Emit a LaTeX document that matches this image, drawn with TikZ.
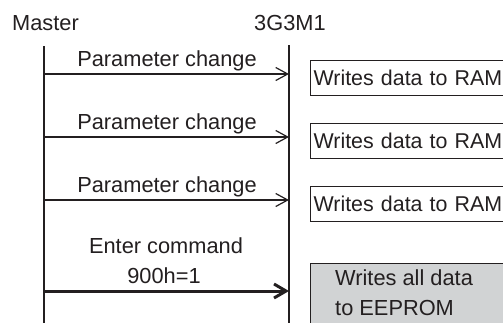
\documentclass[tikz,border=0pt]{standalone}
\usepackage{fontspec}
\setmainfont{Liberation Sans}
\usetikzlibrary{arrows.meta}
\definecolor{ink}{RGB}{35,31,32}
\definecolor{boxgray}{RGB}{209,211,212}
\begin{document}
\begin{tikzpicture}[x=1pt,y=-1pt,
  lbl/.style={font=\fontsize{21.8}{26}\selectfont, text=ink, inner sep=0pt},
  life/.style={draw=ink, line width=1.2pt},
  msg/.style={draw=ink, line width=1.2pt, -{Straight Barb[length=12pt,width=13pt]}},
  msgthick/.style={draw=ink, line width=3pt, -{Straight Barb[length=12pt,width=14pt]}},
  rambox/.style={draw=ink, line width=1.2pt, fill=white, anchor=north west, text width=214pt, align=left, inner xsep=3pt, inner ysep=0pt, minimum height=35pt, font=\fontsize{21.4}{26}\selectfont, text=ink},
  eepbox/.style={draw=ink, line width=1.2pt, fill=boxgray, anchor=north west, minimum width=220pt, minimum height=80pt, inner sep=0pt}]
\useasboundingbox (0,0) rectangle (503,322);
\clip (0,0) rectangle (503,322);
% headers
\node[lbl, anchor=base west] (master) at (12,30) {Master};
\node[lbl, anchor=base west] (slave) at (254,30) {3G3M1};
% lifelines
\coordinate (mtop) at (44,46);
\coordinate (mbot) at (44,323);
\coordinate (stop) at (289,45);
\coordinate (sbot) at (289,323);
\draw[life] (mtop) -- (mbot);
\draw[life] (stop) -- (sbot);
% message points
\coordinate (m1) at (44,74);  \coordinate (s1) at (289,74);
\coordinate (m2) at (44,137); \coordinate (s2) at (289,137);
\coordinate (m3) at (44,200); \coordinate (s3) at (289,200);
\coordinate (m4) at (44,291); \coordinate (s4) at (289,291);
\draw[msg] (m1) -- (s1);
\draw[msg] (m2) -- (s2);
\draw[msg] (m3) -- (s3);
\draw[msgthick] (m4) -- (s4);
% labels
\node[lbl, anchor=base] (p1) at (167,66) {Parameter change};
\node[lbl, anchor=base] (p2) at (167,129) {Parameter change};
\node[lbl, anchor=base] (p3) at (167,192) {Parameter change};
\node[lbl, anchor=base] (ec1) at (166,253) {Enter command};
\node[lbl, anchor=base] (ec2) at (164,283) {900h=1};
% boxes
\node[rambox] (r1) at (310,60) {Writes data to RAM};
\node[rambox] (r2) at (310,123) {Writes data to RAM};
\node[rambox] (r3) at (310,186) {Writes data to RAM};
\node[eepbox] (eep) at (310,263) {};
\node[lbl, anchor=base west] (eept1) at (335,285) {Writes all data};
\node[lbl, anchor=base west] (eept2) at (335,315) {to EEPROM};
\end{tikzpicture}
\end{document}
